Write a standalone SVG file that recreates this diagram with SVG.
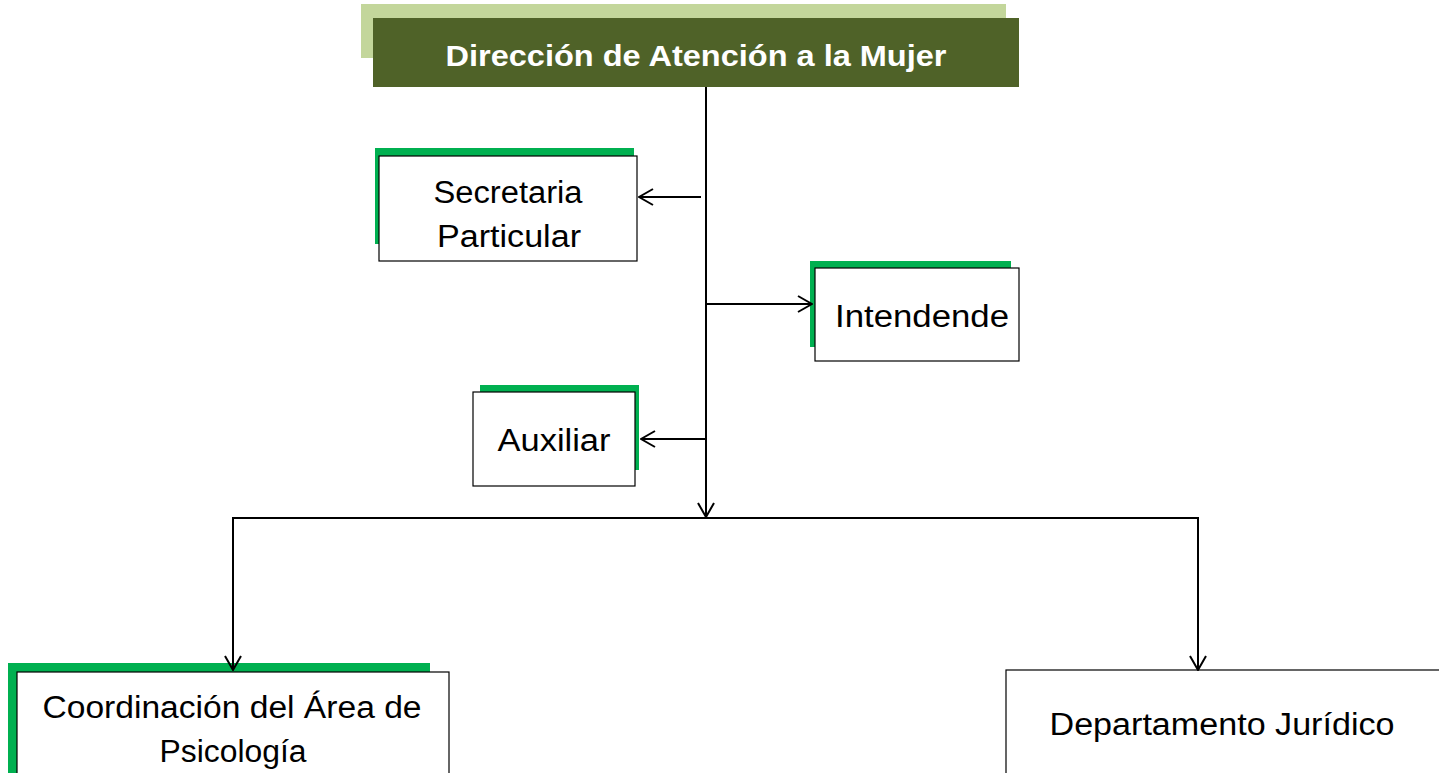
<svg xmlns="http://www.w3.org/2000/svg" width="1439" height="773" viewBox="0 0 1439 773">
<style>
.box{fill:#fff;stroke:#000;stroke-width:1.2}
.acc{fill:#00B050}
.t{font-family:"Liberation Sans",Arial,sans-serif;font-size:31px;fill:#000;text-anchor:middle}
.ti{font-family:"Liberation Sans",Arial,sans-serif;font-size:30px;font-weight:bold;fill:#fff;text-anchor:middle}
.c{fill:none;stroke:#000;stroke-width:2}
</style>
<defs>
<marker id="ah" viewBox="0 0 16 18" refX="15" refY="9" markerWidth="16" markerHeight="18" markerUnits="userSpaceOnUse" orient="auto">
<path d="M1,1 L15,9 L1,17" fill="none" stroke="#000" stroke-width="2"/>
</marker>
</defs>
<rect width="1439" height="773" fill="#fff"/>
<g id="n-direccion">
<rect x="361" y="4" width="645" height="54" fill="#C3D69B"/>
<rect x="373" y="18" width="646" height="69" fill="#4F6228"/>
<text class="ti" x="696" y="66" textLength="501" lengthAdjust="spacingAndGlyphs">Dirección de Atención a la Mujer</text>
</g>
<g id="n-secretaria">
<rect class="acc" x="375" y="148" width="259" height="96"/>
<rect class="box" x="379" y="156" width="258" height="105"/>
<text class="t" x="508" y="203" textLength="149" lengthAdjust="spacingAndGlyphs">Secretaria</text>
<text class="t" x="509" y="247" textLength="144" lengthAdjust="spacingAndGlyphs">Particular</text>
</g>
<g id="n-intendende">
<rect class="acc" x="810" y="261" width="201" height="86"/>
<rect class="box" x="815" y="268" width="204" height="93"/>
<text class="t" x="922" y="327" textLength="174" lengthAdjust="spacingAndGlyphs">Intendende</text>
</g>
<g id="n-auxiliar">
<rect class="acc" x="480" y="385" width="159" height="85"/>
<rect class="box" x="473" y="392" width="162" height="94"/>
<text class="t" x="554" y="451" textLength="113" lengthAdjust="spacingAndGlyphs">Auxiliar</text>
</g>
<g id="n-coordinacion">
<rect class="acc" x="8" y="663" width="422" height="120"/>
<rect class="box" x="17" y="672" width="432" height="120"/>
<text class="t" x="232" y="718" textLength="379" lengthAdjust="spacingAndGlyphs">Coordinación del Área de</text>
<text class="t" x="233" y="762" textLength="147" lengthAdjust="spacingAndGlyphs">Psicología</text>
</g>
<g id="n-juridico">
<rect class="box" x="1006" y="670" width="440" height="120"/>
<text class="t" x="1222" y="735" textLength="345" lengthAdjust="spacingAndGlyphs">Departamento Jurídico</text>
</g>
<g id="connectors">
<line class="c" x1="706" y1="87" x2="706" y2="517" marker-end="url(#ah)"/>
<line class="c" x1="701" y1="197" x2="639" y2="197" marker-end="url(#ah)"/>
<line class="c" x1="706" y1="304" x2="812" y2="304" marker-end="url(#ah)"/>
<line class="c" x1="706" y1="439" x2="641" y2="439" marker-end="url(#ah)"/>
<line class="c" x1="232" y1="518" x2="1199" y2="518"/>
<line class="c" x1="233" y1="518" x2="233" y2="670" marker-end="url(#ah)"/>
<line class="c" x1="1198" y1="518" x2="1198" y2="670" marker-end="url(#ah)"/>
</g>
</svg>
